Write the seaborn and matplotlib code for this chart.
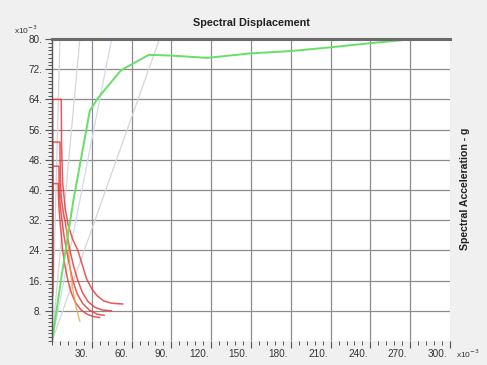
import numpy as np
import pandas as pd
import matplotlib
matplotlib.use("Agg")
import matplotlib.pyplot as plt
import matplotlib.transforms as mtransforms
from matplotlib.ticker import MultipleLocator, FuncFormatter
import seaborn as sns

# capacity curve (x10^-3)
cap_sd = [0, 8, 16, 28.5, 34.5, 52, 73, 90, 117, 150, 180, 210, 240, 270, 289]
cap_sa = [0, 19, 37, 61, 64.3, 71.7, 75.8, 75.6, 75.0, 76.2, 76.8, 77.8, 78.9, 79.9, 80.2]

# demand spectra (x10^-3)
dem_a_sd = [0.5, 0.5, 7, 7.2, 8, 10, 12, 15.5, 19.5, 23, 26, 30, 34, 39, 45, 53.5]
dem_a_sa = [17, 64, 64, 52, 42, 35, 31, 27, 24, 20, 16.5, 13.8, 12, 10.6, 10, 9.8]
dem_b_sd = [0.5, 0.5, 6, 6.2, 7, 8.5, 9.75, 11.5, 13.5, 16.5, 19.5, 23, 27, 32, 38, 45]
dem_b_sa = [15, 52.7, 52.7, 44, 38, 34, 32, 28, 24, 19.5, 16, 12.8, 10.5, 9, 8.2, 8]
dem_c_sd = [0.5, 0.5, 5.2, 5.4, 6, 6.8, 7.5, 9, 11, 13.5, 15.7, 19, 23, 28, 34, 39.5]
dem_c_sa = [13, 46.3, 46.3, 41, 37, 34, 32, 28, 24, 19.5, 16, 12.5, 10, 8.2, 7.1, 6.8]
dem_d_sd = [0.5, 0.5, 4.7, 4.9, 5.3, 6, 7, 8, 10, 12, 14.5, 18, 22, 27, 31, 36]
dem_d_sa = [12, 41.7, 41.7, 38, 35, 32, 28, 24, 19.5, 16, 12.8, 10, 8.2, 7, 6.5, 6.2]
dem_e_sd = [11, 12.5, 14, 16, 18.5, 21]
dem_e_sa = [30, 24, 18, 13, 8.5, 5.2]

# constant period lines: displacement where each line reaches Sa = 80
period_sd_top = [6, 21, 45, 81]
period_colors = ["#d6d6d6", "#d6d6d6", "#d3d9ec", "#d6d6d6"]

x_ticks = [30, 60, 90, 120, 150, 180, 210, 240, 270, 300]
y_ticks = [8, 16, 24, 32, 40, 48, 56, 64, 72, 80]

sns.set_style("white")
plt.rcParams["font.family"] = ["Liberation Sans", "DejaVu Sans"]

fig = plt.figure(figsize=(4.87, 3.65), dpi=100, facecolor="#f0f0f0")
ax = fig.add_axes([52 / 487, 1 - 341 / 365, 398 / 487, 302 / 365])
ax.set_facecolor("white")

for sd_top, col in zip(period_sd_top, period_colors):
    sns.lineplot(x=[0, sd_top], y=[0, 80], color=col, lw=0.9, ax=ax,
                 sort=False, estimator=None)

red = "#e8393c"
for xs, ys in [(dem_a_sd, dem_a_sa), (dem_b_sd, dem_b_sa),
               (dem_c_sd, dem_c_sa), (dem_d_sd, dem_d_sa)]:
    sns.lineplot(x=xs, y=ys, color=red, lw=1.1, alpha=0.85, ax=ax,
                 sort=False, estimator=None)
sns.lineplot(x=dem_e_sd, y=dem_e_sa, color="#f0a040", lw=1.0, alpha=0.8,
             ax=ax, sort=False, estimator=None)

sns.lineplot(x=cap_sd, y=cap_sa, color="#66e066", lw=1.4, ax=ax,
             sort=False, estimator=None)

ax.set_xlim(0, 300)
ax.set_ylim(0, 80)
ax.set_xticks(x_ticks)
ax.set_yticks(y_ticks)
ax.xaxis.set_minor_locator(MultipleLocator(6))
ax.yaxis.set_minor_locator(MultipleLocator(1))
fmt = FuncFormatter(lambda v, p: f"{v:.0f}.")
ax.xaxis.set_major_formatter(fmt)
ax.yaxis.set_major_formatter(fmt)
ax.grid(True, which="major", color="#8c8c8c", lw=0.9)
ax.set_axisbelow(True)
ax.get_xgridlines()[-1].set_visible(False)

for s in ["right", "bottom"]:
    ax.spines[s].set_visible(False)
ax.spines["left"].set_color("#555555")
ax.spines["left"].set_linewidth(1.0)
ax.spines["top"].set_color("#6a6a6a")
ax.spines["top"].set_linewidth(2.2)

ax.tick_params(axis="both", which="major", length=5, width=0.8,
               color="#555555", labelsize=7.2, labelcolor="#333333",
               direction="out")
ax.tick_params(axis="both", which="minor", length=3, width=0.7,
               color="#555555", direction="out")
ax.tick_params(axis="y", which="both", left=True, pad=2)
ax.tick_params(axis="x", which="both", bottom=True, pad=1)

offset = mtransforms.ScaledTranslation(-2 / 72, 0, fig.dpi_scale_trans)
for lab in ax.get_xticklabels():
    lab.set_horizontalalignment("right")
    lab.set_transform(lab.get_transform() + offset)

ax.set_xlabel("")
ax.set_ylabel("")
fig.text(251 / 487, 1 - 23 / 365, "Spectral Displacement", ha="center",
         va="center", fontsize=7.8, fontweight="bold", color="#222222")
fig.text(465 / 487, 1 - 189 / 365, "Spectral Acceleration - g", ha="center",
         va="center", rotation=90, fontsize=7.6, fontweight="bold",
         color="#222222")
fig.text(14 / 487, 1 - 30 / 365, "x10$^{-3}$", fontsize=6, color="#333333",
         va="center")
fig.text(456 / 487, 1 - 354 / 365, "x10$^{-3}$", fontsize=6, color="#333333",
         va="center")

fig.savefig("out.png", dpi=100, facecolor=fig.get_facecolor())
